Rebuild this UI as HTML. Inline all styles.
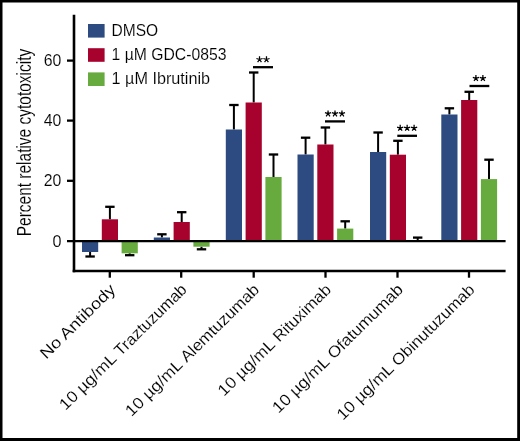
<!DOCTYPE html><html><head><meta charset="utf-8"><style>html,body{margin:0;padding:0;background:#fff}svg{display:block;will-change:transform}text{font-family:"Liberation Sans",sans-serif;fill:#000;stroke:#fff;stroke-width:0.12px}</style></head><body>
<svg width="520" height="441" viewBox="0 0 520 441">
<rect x="0" y="0" width="520" height="441" fill="#fff"/>
<line x1="90.10" y1="256.50" x2="90.10" y2="252.00" stroke="#000" stroke-width="2.0"/>
<line x1="85.40" y1="256.50" x2="94.80" y2="256.50" stroke="#000" stroke-width="2.3"/>
<rect x="82.00" y="241.00" width="16.2" height="11.00" fill="#2D4B80"/>
<line x1="109.90" y1="206.80" x2="109.90" y2="219.30" stroke="#000" stroke-width="2.0"/>
<line x1="105.20" y1="206.80" x2="114.60" y2="206.80" stroke="#000" stroke-width="2.3"/>
<rect x="101.80" y="219.30" width="16.2" height="21.70" fill="#A7022D"/>
<line x1="129.70" y1="255.20" x2="129.70" y2="253.30" stroke="#000" stroke-width="2.0"/>
<line x1="125.00" y1="255.20" x2="134.40" y2="255.20" stroke="#000" stroke-width="2.3"/>
<rect x="121.60" y="241.00" width="16.2" height="12.30" fill="#67AB3F"/>
<line x1="161.90" y1="234.30" x2="161.90" y2="237.50" stroke="#000" stroke-width="2.0"/>
<line x1="157.20" y1="234.30" x2="166.60" y2="234.30" stroke="#000" stroke-width="2.3"/>
<rect x="153.80" y="237.50" width="16.2" height="3.50" fill="#2D4B80"/>
<line x1="181.70" y1="212.20" x2="181.70" y2="222.00" stroke="#000" stroke-width="2.0"/>
<line x1="177.00" y1="212.20" x2="186.40" y2="212.20" stroke="#000" stroke-width="2.3"/>
<rect x="173.60" y="222.00" width="16.2" height="19.00" fill="#A7022D"/>
<line x1="201.50" y1="249.30" x2="201.50" y2="246.70" stroke="#000" stroke-width="2.0"/>
<line x1="196.80" y1="249.30" x2="206.20" y2="249.30" stroke="#000" stroke-width="2.3"/>
<rect x="193.40" y="241.00" width="16.2" height="5.70" fill="#67AB3F"/>
<line x1="233.90" y1="105.00" x2="233.90" y2="129.50" stroke="#000" stroke-width="2.0"/>
<line x1="229.20" y1="105.00" x2="238.60" y2="105.00" stroke="#000" stroke-width="2.3"/>
<rect x="225.80" y="129.50" width="16.2" height="111.50" fill="#2D4B80"/>
<line x1="253.70" y1="72.50" x2="253.70" y2="102.50" stroke="#000" stroke-width="2.0"/>
<line x1="249.00" y1="72.50" x2="258.40" y2="72.50" stroke="#000" stroke-width="2.3"/>
<rect x="245.60" y="102.50" width="16.2" height="138.50" fill="#A7022D"/>
<line x1="273.50" y1="154.50" x2="273.50" y2="177.00" stroke="#000" stroke-width="2.0"/>
<line x1="268.80" y1="154.50" x2="278.20" y2="154.50" stroke="#000" stroke-width="2.3"/>
<rect x="265.40" y="177.00" width="16.2" height="64.00" fill="#67AB3F"/>
<line x1="305.60" y1="137.70" x2="305.60" y2="154.50" stroke="#000" stroke-width="2.0"/>
<line x1="300.90" y1="137.70" x2="310.30" y2="137.70" stroke="#000" stroke-width="2.3"/>
<rect x="297.50" y="154.50" width="16.2" height="86.50" fill="#2D4B80"/>
<line x1="325.40" y1="127.50" x2="325.40" y2="144.50" stroke="#000" stroke-width="2.0"/>
<line x1="320.70" y1="127.50" x2="330.10" y2="127.50" stroke="#000" stroke-width="2.3"/>
<rect x="317.30" y="144.50" width="16.2" height="96.50" fill="#A7022D"/>
<line x1="345.20" y1="221.30" x2="345.20" y2="228.60" stroke="#000" stroke-width="2.0"/>
<line x1="340.50" y1="221.30" x2="349.90" y2="221.30" stroke="#000" stroke-width="2.3"/>
<rect x="337.10" y="228.60" width="16.2" height="12.40" fill="#67AB3F"/>
<line x1="378.10" y1="132.50" x2="378.10" y2="152.00" stroke="#000" stroke-width="2.0"/>
<line x1="373.40" y1="132.50" x2="382.80" y2="132.50" stroke="#000" stroke-width="2.3"/>
<rect x="370.00" y="152.00" width="16.2" height="89.00" fill="#2D4B80"/>
<line x1="397.90" y1="140.80" x2="397.90" y2="154.70" stroke="#000" stroke-width="2.0"/>
<line x1="393.20" y1="140.80" x2="402.60" y2="140.80" stroke="#000" stroke-width="2.3"/>
<rect x="389.80" y="154.70" width="16.2" height="86.30" fill="#A7022D"/>
<line x1="417.70" y1="237.60" x2="417.70" y2="240.50" stroke="#000" stroke-width="2.0"/>
<line x1="413.00" y1="237.60" x2="422.40" y2="237.60" stroke="#000" stroke-width="2.3"/>
<line x1="449.40" y1="108.30" x2="449.40" y2="114.50" stroke="#000" stroke-width="2.0"/>
<line x1="444.70" y1="108.30" x2="454.10" y2="108.30" stroke="#000" stroke-width="2.3"/>
<rect x="441.30" y="114.50" width="16.2" height="126.50" fill="#2D4B80"/>
<line x1="469.20" y1="91.80" x2="469.20" y2="100.00" stroke="#000" stroke-width="2.0"/>
<line x1="464.50" y1="91.80" x2="473.90" y2="91.80" stroke="#000" stroke-width="2.3"/>
<rect x="461.10" y="100.00" width="16.2" height="141.00" fill="#A7022D"/>
<line x1="489.00" y1="159.70" x2="489.00" y2="179.10" stroke="#000" stroke-width="2.0"/>
<line x1="484.30" y1="159.70" x2="493.70" y2="159.70" stroke="#000" stroke-width="2.3"/>
<rect x="480.90" y="179.10" width="16.2" height="61.90" fill="#67AB3F"/>
<line x1="74" y1="14.7" x2="74" y2="272.3" stroke="#000" stroke-width="2.6"/>
<line x1="72.7" y1="271" x2="505.6" y2="271" stroke="#000" stroke-width="2.6"/>
<line x1="67" y1="241.1" x2="505.6" y2="241.1" stroke="#000" stroke-width="2.4"/>
<line x1="67" y1="60.6" x2="73" y2="60.6" stroke="#000" stroke-width="2.3"/>
<line x1="67" y1="120.6" x2="73" y2="120.6" stroke="#000" stroke-width="2.3"/>
<line x1="67" y1="180.8" x2="73" y2="180.8" stroke="#000" stroke-width="2.3"/>
<text x="61.4" y="65.8" font-size="16.2" text-anchor="end" textLength="17.6" lengthAdjust="spacingAndGlyphs">60</text>
<text x="61.4" y="125.8" font-size="16.2" text-anchor="end" textLength="17.6" lengthAdjust="spacingAndGlyphs">40</text>
<text x="61.4" y="186.0" font-size="16.2" text-anchor="end" textLength="17.6" lengthAdjust="spacingAndGlyphs">20</text>
<text x="61.4" y="246.5" font-size="16.2" text-anchor="end" textLength="9.0" lengthAdjust="spacingAndGlyphs">0</text>
<line x1="109.8" y1="271" x2="109.8" y2="277.7" stroke="#000" stroke-width="2.3"/>
<line x1="181.2" y1="271" x2="181.2" y2="277.7" stroke="#000" stroke-width="2.3"/>
<line x1="253.7" y1="271" x2="253.7" y2="277.7" stroke="#000" stroke-width="2.3"/>
<line x1="325.5" y1="271" x2="325.5" y2="277.7" stroke="#000" stroke-width="2.3"/>
<line x1="397.5" y1="271" x2="397.5" y2="277.7" stroke="#000" stroke-width="2.3"/>
<line x1="469.0" y1="271" x2="469.0" y2="277.7" stroke="#000" stroke-width="2.3"/>
<text transform="translate(31.2,236.3) rotate(-90)" font-size="19.5" textLength="187.5" lengthAdjust="spacingAndGlyphs">Percent relative cytotoxicity</text>
<rect x="88" y="24.0" width="16.6" height="13.6" fill="#2D4B80"/>
<text x="111.6" y="35.5" font-size="16" textLength="46.6" lengthAdjust="spacingAndGlyphs">DMSO</text>
<rect x="88" y="48.2" width="16.6" height="13.6" fill="#A7022D"/>
<text x="111.6" y="59.7" font-size="16" textLength="114.8" lengthAdjust="spacingAndGlyphs">1 µM GDC-0853</text>
<rect x="88" y="72.4" width="16.6" height="13.6" fill="#67AB3F"/>
<text x="111.6" y="83.9" font-size="16" textLength="98.5" lengthAdjust="spacingAndGlyphs">1 µM Ibrutinib</text>
<line x1="253.0" y1="67.2" x2="273.0" y2="67.2" stroke="#000" stroke-width="2.3"/>
<path d="M259.52 59.50L259.52 56.25M259.52 59.50L262.62 58.50M259.52 59.50L261.44 62.13M259.52 59.50L257.61 62.13M259.52 59.50L256.43 58.50" stroke="#000" stroke-width="1.25" fill="none"/>
<path d="M266.48 59.50L266.48 56.25M266.48 59.50L269.57 58.50M266.48 59.50L268.39 62.13M266.48 59.50L264.56 62.13M266.48 59.50L263.38 58.50" stroke="#000" stroke-width="1.25" fill="none"/>
<line x1="325.0" y1="121.4" x2="345.0" y2="121.4" stroke="#000" stroke-width="2.3"/>
<path d="M328.05 113.70L328.05 110.45M328.05 113.70L331.14 112.70M328.05 113.70L329.96 116.33M328.05 113.70L326.14 116.33M328.05 113.70L324.96 112.70" stroke="#000" stroke-width="1.25" fill="none"/>
<path d="M335.00 113.70L335.00 110.45M335.00 113.70L338.09 112.70M335.00 113.70L336.91 116.33M335.00 113.70L333.09 116.33M335.00 113.70L331.91 112.70" stroke="#000" stroke-width="1.25" fill="none"/>
<path d="M341.95 113.70L341.95 110.45M341.95 113.70L345.04 112.70M341.95 113.70L343.86 116.33M341.95 113.70L340.04 116.33M341.95 113.70L338.86 112.70" stroke="#000" stroke-width="1.25" fill="none"/>
<line x1="397.3" y1="135.8" x2="417.0" y2="135.8" stroke="#000" stroke-width="2.3"/>
<path d="M400.20 128.10L400.20 124.85M400.20 128.10L403.29 127.10M400.20 128.10L402.11 130.73M400.20 128.10L398.29 130.73M400.20 128.10L397.11 127.10" stroke="#000" stroke-width="1.25" fill="none"/>
<path d="M407.15 128.10L407.15 124.85M407.15 128.10L410.24 127.10M407.15 128.10L409.06 130.73M407.15 128.10L405.24 130.73M407.15 128.10L404.06 127.10" stroke="#000" stroke-width="1.25" fill="none"/>
<path d="M414.10 128.10L414.10 124.85M414.10 128.10L417.19 127.10M414.10 128.10L416.01 130.73M414.10 128.10L412.19 130.73M414.10 128.10L411.01 127.10" stroke="#000" stroke-width="1.25" fill="none"/>
<line x1="469.5" y1="86.0" x2="489.3" y2="86.0" stroke="#000" stroke-width="2.3"/>
<path d="M475.92 78.30L475.92 75.05M475.92 78.30L479.02 77.30M475.92 78.30L477.84 80.93M475.92 78.30L474.01 80.93M475.92 78.30L472.83 77.30" stroke="#000" stroke-width="1.25" fill="none"/>
<path d="M482.88 78.30L482.88 75.05M482.88 78.30L485.97 77.30M482.88 78.30L484.79 80.93M482.88 78.30L480.96 80.93M482.88 78.30L479.78 77.30" stroke="#000" stroke-width="1.25" fill="none"/>
<g transform="translate(116.39999999999999,290.7) rotate(-44.5)" font-size="16"><text x="0" y="0" text-anchor="end" textLength="98.5" lengthAdjust="spacingAndGlyphs">No Antibody</text></g>
<g transform="translate(187.79999999999998,290.7) rotate(-44.5)" font-size="16"><text x="0" y="0" text-anchor="end" textLength="94.20" lengthAdjust="spacingAndGlyphs">Traztuzumab</text><text x="-171.50" y="0" textLength="73.0" lengthAdjust="spacingAndGlyphs">10 µg/mL</text></g>
<g transform="translate(260.3,290.7) rotate(-44.5)" font-size="16"><text x="0" y="0" text-anchor="end" textLength="103.20" lengthAdjust="spacingAndGlyphs">Alemtuzumab</text><text x="-180.50" y="0" textLength="73.0" lengthAdjust="spacingAndGlyphs">10 µg/mL</text></g>
<g transform="translate(332.1,290.7) rotate(-44.5)" font-size="16"><text x="0" y="0" text-anchor="end" textLength="74.20" lengthAdjust="spacingAndGlyphs">Rituximab</text><text x="-151.50" y="0" textLength="73.0" lengthAdjust="spacingAndGlyphs">10 µg/mL</text></g>
<g transform="translate(404.1,290.7) rotate(-44.5)" font-size="16"><text x="0" y="0" text-anchor="end" textLength="98.70" lengthAdjust="spacingAndGlyphs">Ofatumumab</text><text x="-176.00" y="0" textLength="73.0" lengthAdjust="spacingAndGlyphs">10 µg/mL</text></g>
<g transform="translate(475.6,290.7) rotate(-44.5)" font-size="16"><text x="0" y="0" text-anchor="end" textLength="108.70" lengthAdjust="spacingAndGlyphs">Obinutuzumab</text><text x="-186.00" y="0" textLength="73.0" lengthAdjust="spacingAndGlyphs">10 µg/mL</text></g>
<path d="M0 0H520V441H0Z M2.5 2.5V438H517.2V2.5Z" fill="#000" fill-rule="evenodd"/>
</svg></body></html>
